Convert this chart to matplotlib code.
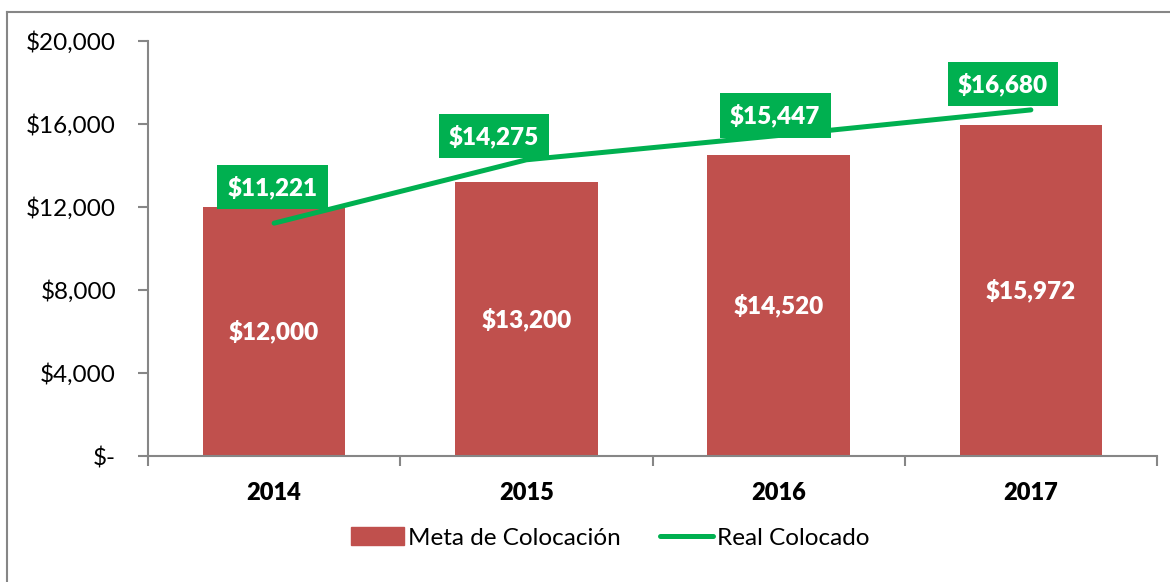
import matplotlib
matplotlib.use("Agg")
import matplotlib.pyplot as plt
from matplotlib.lines import Line2D
from matplotlib.ticker import FuncFormatter

years = ["2014", "2015", "2016", "2017"]
meta = [12000, 13200, 14520, 15972]
real = [11221, 14275, 15447, 16680]
yticks = [0, 4000, 8000, 12000, 16000, 20000]

RED = "#C0504D"
GREEN = "#00B050"
GRAY = "#868686"

# hand-placed label offsets (pixels) like in the original sheet
label_offsets = [(-1.5, 36), (-32.5, 23.5), (-3.5, 20), (-28, 25.5)]

plt.rcParams["font.family"] = ["Lato", "DejaVu Sans"]

fig = plt.figure(figsize=(11.7, 5.82), dpi=100)
ax = fig.add_axes([148 / 1170, 1 - 456 / 582, (1157 - 148) / 1170, (456 - 41) / 582])

x = list(range(len(years)))
ax.bar(x, meta, width=0.565, color=RED, label="Meta de Colocación", zorder=2)
ax.plot(x, real, color=GREEN, lw=3.6, solid_capstyle="round", label="Real Colocado", zorder=3)

# bar labels in the middle of each bar
for xi, v in zip(x, meta):
    ax.text(xi, v / 2, "${:,}".format(v), ha="center", va="center",
            color="white", fontsize=17.5, fontweight="heavy", zorder=4)

# green boxed labels above the line points
for xi, v, off in zip(x, real, label_offsets):
    ax.annotate("${:,}".format(v), (xi, v), xytext=off, textcoords="offset pixels",
                ha="center", va="center", color="white", fontsize=17.5, fontweight="heavy",
                bbox=dict(boxstyle="square,pad=0.42", fc=GREEN, ec="none"), zorder=5)

ax.set_xlim(-0.5, 3.5)
ax.set_ylim(0, 20000)
ax.set_yticks(yticks)
ax.yaxis.set_major_formatter(FuncFormatter(lambda v, p: "$-" if v == 0 else "${:,.0f}".format(v)))
ax.set_xticks(x)
ax.set_xticklabels(years, fontsize=17, fontweight="heavy")
ax.set_xticks([-0.5, 0.5, 1.5, 2.5, 3.5], minor=True)
ax.tick_params(axis="x", which="major", length=0, pad=19)
ax.tick_params(axis="x", which="minor", length=7, color=GRAY, width=1.5)
ax.tick_params(axis="y", length=7, color=GRAY, width=1.5, labelsize=17.5, pad=16)

for s in ["top", "right"]:
    ax.spines[s].set_visible(False)
for s in ["left", "bottom"]:
    ax.spines[s].set_color(GRAY)
    ax.spines[s].set_linewidth(1.5)

handles = [plt.Rectangle((0, 0), 1, 1, color=RED),
           Line2D([0], [0], color=GREEN, lw=3.6, solid_capstyle="round")]
fig.legend(handles, ["Meta de Colocación", "Real Colocado"], loc="center",
           bbox_to_anchor=(610 / 1170, 1 - 538 / 582), ncol=2, frameon=False,
           fontsize=17.5, handlelength=2.2, handletextpad=0.15, columnspacing=1.6)

# outer chart border (only left and top visible in the crop)
fig.add_artist(Line2D([7 / 1170, 7 / 1170], [0, 1 - 12 / 582], color=GRAY, lw=1.5))
fig.add_artist(Line2D([7 / 1170, 1], [1 - 12 / 582, 1 - 12 / 582], color=GRAY, lw=1.5))

fig.savefig("out.png", dpi=100)
